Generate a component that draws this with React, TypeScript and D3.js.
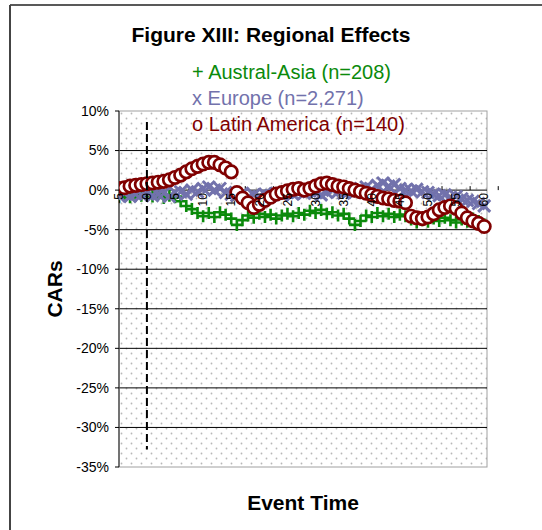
import React from "react";
import * as d3 from "d3";

// Event times (categories) -5 .. 60
const eventTimes: number[] = d3.range(-5, 61);
const xTickLabels: number[] = [-5, 0, 5, 10, 15, 20, 25, 30, 35, 40, 45, 50, 55, 60];
const yTicks: number[] = [10, 5, 0, -5, -10, -15, -20, -25, -30, -35];

// CARs in percent, one value per event time
const australAsia: number[] = [
  -0.8, -0.5, -0.9, -0.6, -0.7, -0.4,
  -0.8, -0.5, -1.0, -0.7, -0.9,
  -1.4, -2.0, -2.4, -2.9, -3.3,
  -2.9, -3.4, -2.8, -3.1, -3.6,
  -4.4, -3.8, -3.2, -3.5, -3.0,
  -3.4, -3.1, -3.6, -3.2, -3.0,
  -3.3, -2.9, -3.1, -2.6, -2.9,
  -2.5, -3.0, -2.8, -3.2, -3.0,
  -3.6, -4.4, -3.9, -3.2, -3.4,
  -2.9, -3.3, -3.0, -3.4, -3.1,
  -3.3, -3.7, -4.1, -3.8, -4.0,
  -3.6, -3.9, -3.5, -3.8, -4.1,
  -3.7, -4.0, -3.6, -3.9, -4.3,
];
const europe: number[] = [
  -0.7, -0.4, -0.8, -0.5, -0.6, -0.3,
  -0.7, -0.5, -0.4, -0.8, -0.3,
  -0.2, -0.5, 0.0, -0.2, 0.2,
  0.4, 0.0, 0.2, -0.3, -0.5,
  -0.7, -0.4, -0.9, -0.6, -0.8,
  -0.5, -0.7, -0.4, -0.6, -0.3,
  -0.5, -0.2, -0.4, -0.1, -0.3,
  -0.6, -0.3, 0.0, -0.2, -0.4,
  -0.1, -0.3, 0.2, 0.4, 0.1,
  0.6, 0.9, 0.5, 0.7, 0.2,
  0.0, -0.1, 0.1, -0.2, -0.3,
  -0.5, -0.7, -0.6, -0.9, -0.8,
  -1.1, -1.3, -1.4, -1.7, -2.0,
];
const latinAmerica: number[] = [
  0.2, 0.3, 0.5, 0.6, 0.7, 0.8,
  0.9, 1.0, 1.1, 1.3, 1.6,
  1.9, 2.3, 2.7, 3.0, 3.3,
  3.5, 3.5, 3.2, 2.8, 2.3,
  -0.3, -1.0, -1.6, -2.2, -1.8,
  -1.3, -0.9, -0.5, -0.3, -0.1,
  0.1, 0.2, 0.0, 0.2, 0.5,
  0.8, 0.9, 0.7, 0.5, 0.4,
  0.2, 0.0, -0.2, -0.4, -0.6,
  -0.8, -1.0, -1.1, -1.3, -1.4,
  -1.6, -3.3, -3.5, -3.6, -3.4,
  -3.0, -2.5, -2.2, -2.0, -2.3,
  -2.9, -3.5, -3.9, -4.2, -4.6,
];

const legendLabels: string[] = [
  "+ Austral-Asia (n=208)",
  "x Europe (n=2,271)",
  "o Latin America (n=140)",
];
const eventLine = { t: 0, from: 8.6, to: -32.8 };

const FONT = "Arial, 'Liberation Sans', sans-serif";
const GREEN = "#0b8a0b";
const BLUE = "#7272ac";
const RED = "#800000";

export default function App() {
  const W = 542;
  const H = 530;
  const plot = { left: 119, right: 487, top: 111, bottom: 467 };
  const x = d3.scaleLinear().domain([-5.5, 60.5]).range([116, 487]);
  const y = d3.scaleLinear().domain([10, -35]).range([plot.top, plot.bottom]);

  const plus = (cx: number, cy: number, s: number) =>
    `M${cx - s},${cy}h${2 * s}M${cx},${cy - s}v${2 * s}`;
  const cross = (cx: number, cy: number, s: number) =>
    `M${cx - s},${cy - s}L${cx + s},${cy + s}M${cx - s},${cy + s}L${cx + s},${cy - s}`;

  return (
    <svg
      width={W}
      height={H}
      style={{ position: "absolute", left: 0, top: 0, background: "#fff" }}
      fontFamily={FONT}
    >
      <defs>
        <pattern id="dots" width={10} height={10} patternUnits="userSpaceOnUse" x={plot.left} y={plot.top}>
          <rect width={10} height={10} fill="#fff" />
          <circle cx={2.5} cy={2.5} r={0.9} fill="#b8b8b8" />
          <circle cx={7.5} cy={7.5} r={0.9} fill="#b8b8b8" />
        </pattern>
        <clipPath id="clip">
          <rect x={plot.left} y={plot.top - 12} width={plot.right - plot.left + 12} height={plot.bottom - plot.top + 12} />
        </clipPath>
      </defs>

      {/* outer frame */}
      <line x1={10} y1={5} x2={W} y2={5} stroke="#222" strokeWidth={1.5} />
      <line x1={10} y1={5} x2={10} y2={H} stroke="#444" strokeWidth={2} />

      {/* plot background */}
      <rect
        x={plot.left}
        y={plot.top}
        width={plot.right - plot.left}
        height={plot.bottom - plot.top}
        fill="url(#dots)"
        stroke="#a0a0a0"
        strokeWidth={1}
      />

      {/* gridlines */}
      {yTicks
        .filter((v) => v !== 10 && v !== -35 && v !== 0)
        .map((v) => (
          <line key={v} x1={plot.left} x2={plot.right} y1={y(v)} y2={y(v)} stroke="#000" strokeWidth={1} />
        ))}

      {/* y axis */}
      <line x1={plot.left} x2={plot.left} y1={plot.top} y2={plot.bottom} stroke="#555" strokeWidth={1.5} />
      {yTicks.map((v) => (
        <g key={v}>
          <line x1={plot.left - 4} x2={plot.left} y1={y(v)} y2={y(v)} stroke="#000" />
          <text x={109} y={y(v)} dy="0.35em" textAnchor="end" fontSize={14} fill="#000">
            {`${v}%`}
          </text>
        </g>
      ))}

      {/* x axis at 0% */}
      <line x1={plot.left} x2={plot.right} y1={y(0)} y2={y(0)} stroke="#000" strokeWidth={1} />
      {xTickLabels.map((t) => (
        <line key={"tk" + t} x1={x(t + 2.5)} x2={x(t + 2.5)} y1={y(0)} y2={y(0) - 4} stroke="#000" />
      ))}

      {/* series */}
      <g clipPath="url(#clip)">
        <g stroke={GREEN} strokeWidth={2.6} fill="none">
          {eventTimes.map((t, i) => (
            <path key={"a" + t} d={plus(x(t), y(australAsia[i]), 6)} />
          ))}
        </g>
        <g stroke={BLUE} strokeWidth={3} fill="none">
          {eventTimes.map((t, i) => (
            <path key={"e" + t} d={cross(x(t), y(europe[i]), 6)} />
          ))}
        </g>
        <g stroke={RED} strokeWidth={2.7} fill="#fff">
          {eventTimes.map((t, i) => (
            <circle key={"l" + t} cx={x(t)} cy={y(latinAmerica[i])} r={6.2} />
          ))}
        </g>
      </g>

      {/* x tick labels (rotated) */}
      {xTickLabels.map((t) => (
        <text
          key={"xl" + t}
          transform={`translate(${x(t)},${y(0) + 3}) rotate(-90)`}
          textAnchor="end"
          dy="0.35em"
          fontSize={12}
          fill="#000"
        >
          {t}
        </text>
      ))}

      {/* event line */}
      <line
        x1={x(eventLine.t)}
        x2={x(eventLine.t)}
        y1={y(eventLine.from)}
        y2={y(eventLine.to)}
        stroke="#000"
        strokeWidth={2}
        strokeDasharray="8,4"
      />

      {/* title */}
      <text x={271} y={42} textAnchor="middle" fontSize={21} fontWeight="bold" fill="#000">
        Figure XIII: Regional Effects
      </text>

      {/* legend */}
      <text x={192} y={79} fontSize={20} fill={GREEN}>{legendLabels[0]}</text>
      <text x={192} y={105} fontSize={20} fill={BLUE}>{legendLabels[1]}</text>
      <text x={192} y={131} fontSize={20} fill={RED}>{legendLabels[2]}</text>

      {/* axis titles */}
      <text
        transform={`translate(62,${(plot.top + plot.bottom) / 2}) rotate(-90)`}
        textAnchor="middle"
        fontSize={21}
        fontWeight="bold"
        fill="#000"
      >
        CARs
      </text>
      <text x={(plot.left + plot.right) / 2} y={510} textAnchor="middle" fontSize={21} fontWeight="bold" fill="#000">
        Event Time
      </text>
    </svg>
  );
}
